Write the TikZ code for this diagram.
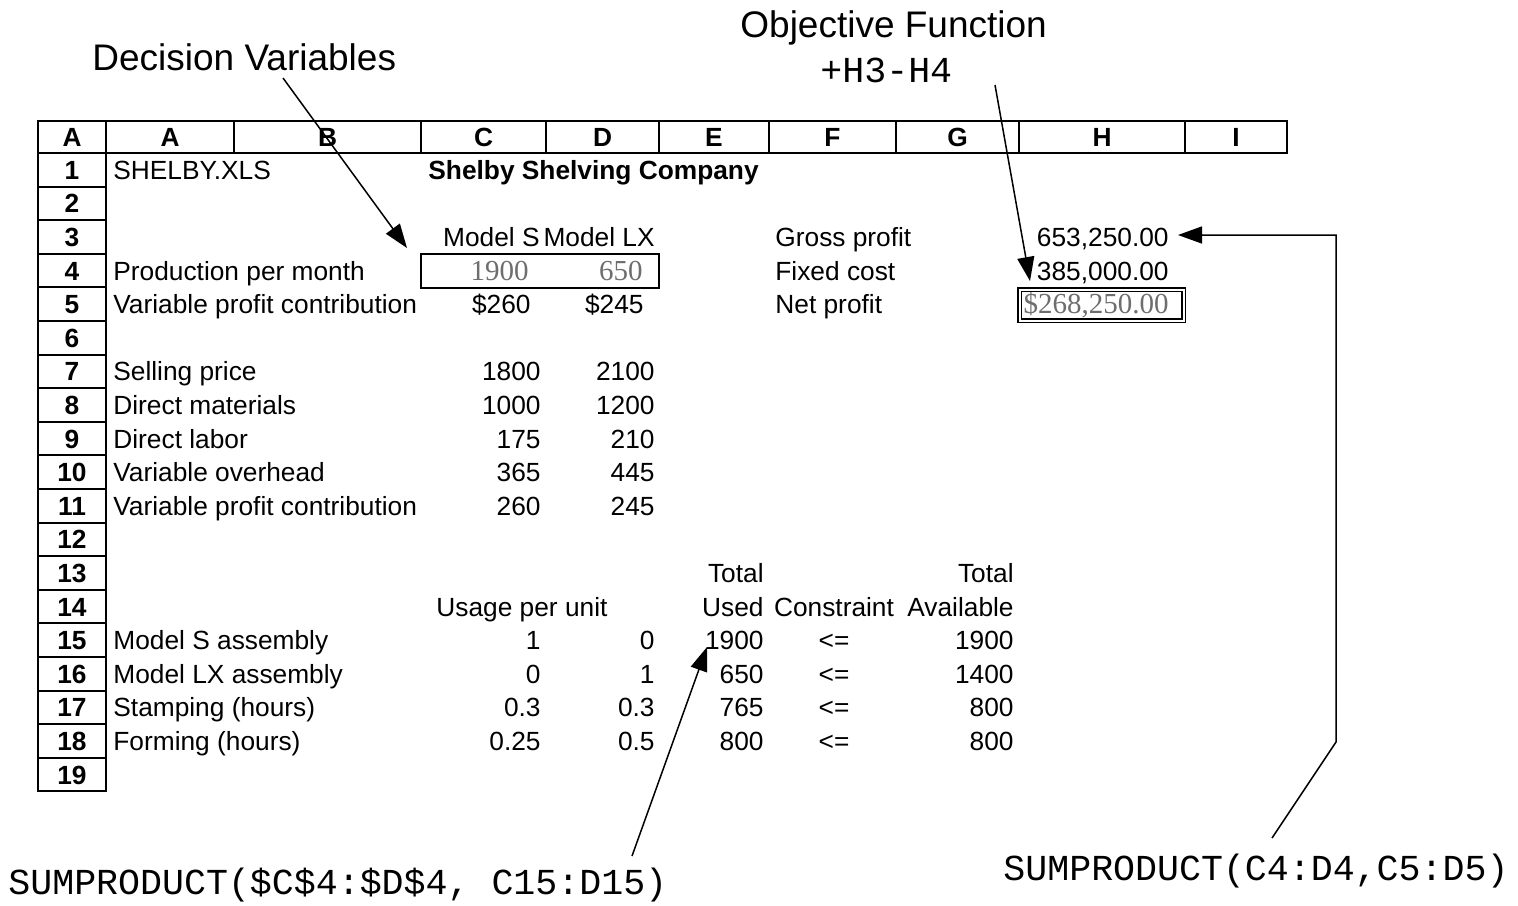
\documentclass[tikz,border=0pt]{standalone}
\usepackage{fontspec}
\setmainfont{Liberation Sans}
\setmonofont{Liberation Mono}
\newfontfamily\timesnum{Liberation Serif}
\usetikzlibrary{arrows.meta}
\definecolor{valgray}{HTML}{6E6E6E}
% baseline of sheet row #1
\newcommand{\rowbase}[1]{145.6+33.6*#1}
\newcommand{\lcell}[4]{\node[cell,anchor=base west] (#1) at (#2,{\rowbase{#3}}) {#4};}
\newcommand{\rcell}[4]{\node[cell,anchor=base east] (#1) at (#2,{\rowbase{#3}}) {#4};}

\begin{document}
\begin{tikzpicture}[x=0.5pt,y=-0.5pt,
  cell/.style={font=\fontsize{13.15}{15}\selectfont,inner sep=0pt},
  hdr/.style={font=\fontsize{13.15}{15}\selectfont\bfseries,inner sep=0pt},
  title/.style={font=\fontsize{18.5}{22}\selectfont,inner sep=0pt},
  formula/.style={font=\fontsize{18.3}{22}\selectfont\ttfamily,inner sep=0pt},
  input/.style={font=\fontsize{14.5}{17}\selectfont\timesnum,text=valgray,inner sep=0pt},
  grid/.style={line width=1pt},
  arr/.style={line width=0.75pt,-{Triangle[length=12pt,width=8.5pt]}}]
  \useasboundingbox (0,0) rectangle (1518,905);

  % column header strip
  \draw[grid] (38,121) rectangle (1287,153);
  \foreach \x in {106,234,421,546,659,769,896,1019,1185} \draw[grid] (\x,121) -- (\x,153);
  \foreach \x/\c [count=\i] in {72/A,170/A,327.5/B,483.5/C,602.5/D,714/E,832.5/F,957.5/G,1102/H,1236/I}
    \node[hdr,anchor=base] (col\i) at (\x,146.4) {\c};

  % row numbers
  \foreach \r in {1,...,19} {
    \draw[grid] (38,{153+33.6*(\r-1)}) rectangle (106,{153+33.6*\r});
    \node[hdr,anchor=base] (row\r) at (72,{\rowbase{\r}}) {\r};
  }

  % top block
  \lcell{a1}{113}{1}{SHELBY.XLS}
  \node[hdr,anchor=base west] (sheettitle) at (428,{\rowbase{1}}) {Shelby Shelving Company};
  \rcell{c3}{540}{3}{Model S}
  \rcell{d3}{655}{3}{Model LX}
  \lcell{f3}{775}{3}{Gross profit}
  \rcell{h3}{1169}{3}{653,250.00}
  \lcell{a4}{113}{4}{Production per month}
  \node[input,anchor=base east] (c4) at (529,{\rowbase{4}}) {1900};
  \node[input,anchor=base east] (d4) at (643,{\rowbase{4}}) {650};
  \lcell{f4}{775}{4}{Fixed cost}
  \rcell{h4}{1169}{4}{385,000.00}
  \lcell{a5}{113}{5}{Variable profit contribution}
  \rcell{c5}{531}{5}{\$260}
  \rcell{d5}{644}{5}{\$245}
  \lcell{f5}{775}{5}{Net profit}
  \node[input,anchor=base east] (h5) at (1169,{\rowbase{5}}) {\$268,250.00};

  % decision cells and objective cell
  \draw[grid] (421,254) rectangle (659,288);
  \draw[line width=0.8pt,double,double distance=1pt] (1019.5,289.5) rectangle (1183.5,320.5);

  % cost breakdown
  \foreach \r/\lbl/\c/\d in {7/Selling price/1800/2100,8/Direct materials/1000/1200,
      9/Direct labor/175/210,10/Variable overhead/365/445,11/Variable profit contribution/260/245} {
    \lcell{a\r}{113}{\r}{\lbl}
    \rcell{c\r}{541}{\r}{\c}
    \rcell{d\r}{655}{\r}{\d}
  }

  % constraints
  \rcell{e13}{764}{13}{Total}
  \rcell{g13}{1014}{13}{Total}
  \lcell{c14}{436}{14}{Usage per unit}
  \rcell{e14}{764}{14}{Used}
  \node[cell,anchor=base] (f14) at (834,{\rowbase{14}}) {Constraint};
  \rcell{g14}{1014}{14}{Available}
  \foreach \r/\lbl/\c/\d/\e/\g in {15/Model S assembly/1/0/1900/1900,16/Model LX assembly/0/1/650/1400,
      17/Stamping (hours)/0.3/0.3/765/800,18/Forming (hours)/0.25/0.5/800/800} {
    \lcell{a\r}{113}{\r}{\lbl}
    \rcell{c\r}{541}{\r}{\c}
    \rcell{d\r}{655}{\r}{\d}
    \rcell{e\r}{764}{\r}{\e}
    \node[cell,anchor=base] (f\r) at (834,{\rowbase{\r}}) {<=};
    \rcell{g\r}{1014}{\r}{\g}
  }

  % callouts
  \node[title,anchor=base west] (decvar) at (92,70) {Decision Variables};
  \node[title,anchor=base west] (objfn) at (740,37) {Objective Function};
  \node[formula,anchor=base west] (objformula) at (820,82) {+H3-H4};
  \node[formula,anchor=base west] (usedformula) at (8,894) {SUMPRODUCT(\$C\$4:\$D\$4, C15:D15)};
  \node[formula,anchor=base west] (grossformula) at (1003,880) {SUMPRODUCT(C4:D4,C5:D5)};

  \coordinate (dvfoot) at (283,78);
  \coordinate (dvtip) at (407,248);
  \coordinate (offoot) at (995,85);
  \coordinate (oftip) at (1030,281);
  \coordinate (gpfoot) at (1272,838);
  \coordinate (gpbend) at (1336,742);
  \coordinate (gptip) at (1178,235);
  \coordinate (usfoot) at (632,856);
  \coordinate (ustip) at (707,647);

  \draw[arr] (dvfoot) -- (dvtip);
  \draw[arr] (offoot) -- (oftip);
  \draw[arr] (gpfoot) -- (gpbend) |- (gptip);
  \draw[arr] (usfoot) -- (ustip);
\end{tikzpicture}
\end{document}
